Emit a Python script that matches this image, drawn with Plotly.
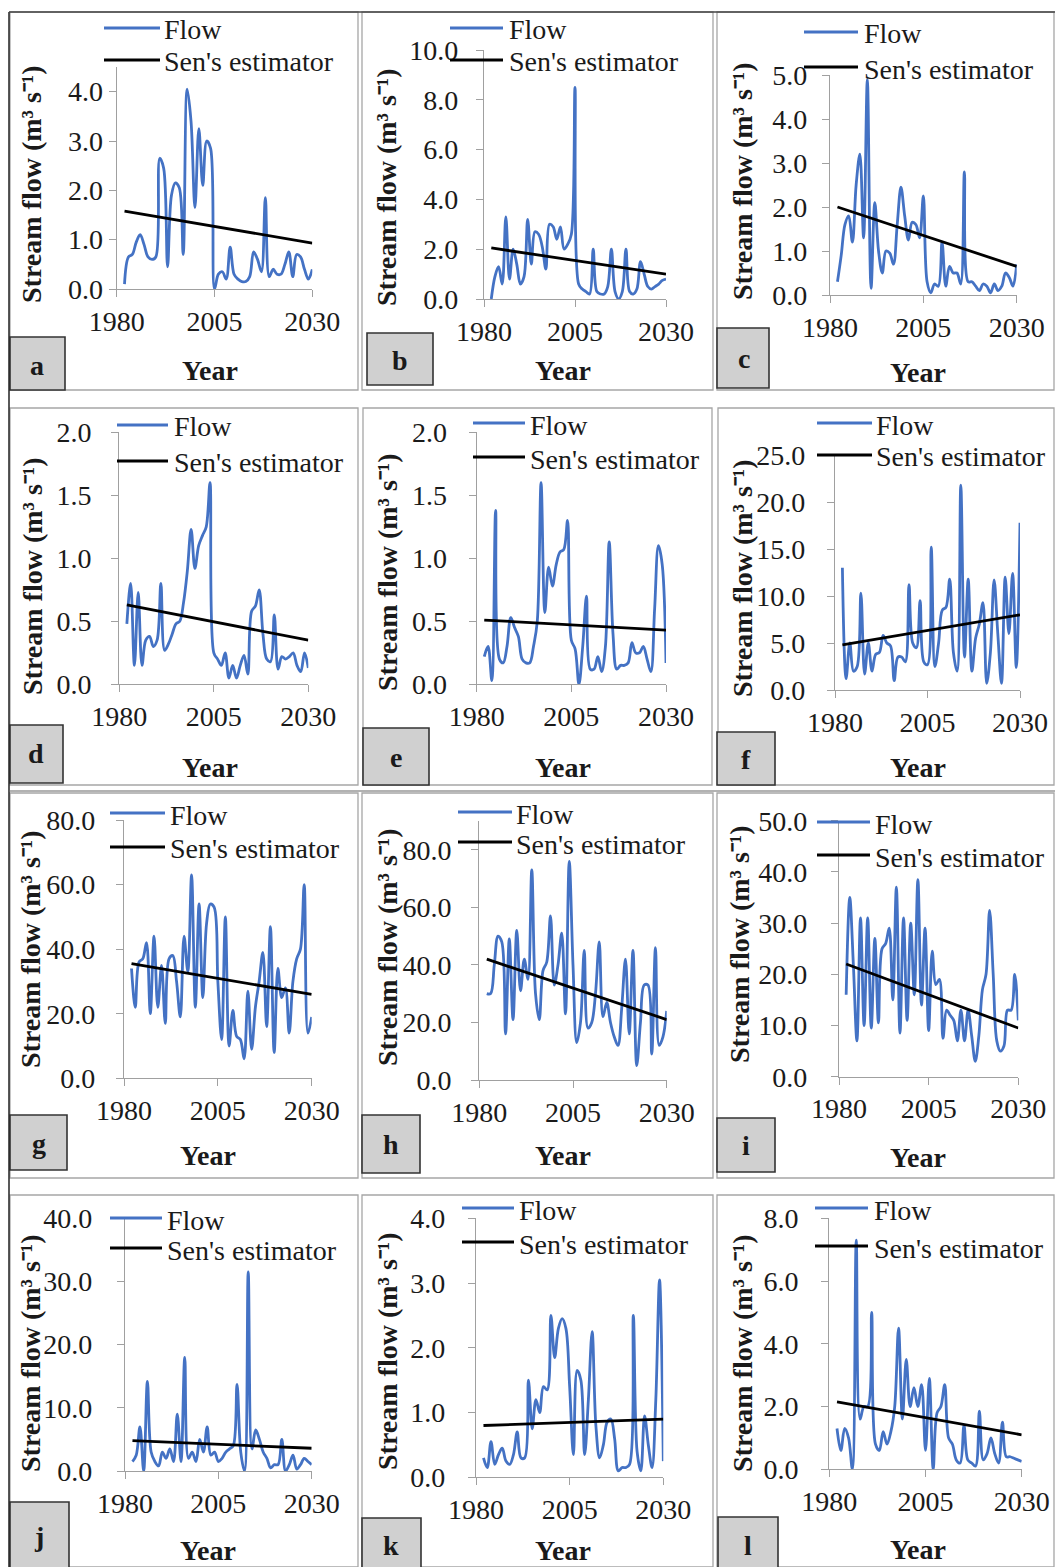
import plotly.graph_objects as go

W, H = 1055, 1567

# ---------------- data ----------------
YEARS = list(range(1982, 2031))
SEN_YEARS = [1982, 2030]
X_TICKS = [1980, 2005, 2030]
PANEL_LABELS = ["a", "b", "c", "d", "e", "f", "g", "h", "i", "j", "k", "l"]
Y_MAX = [4.5, 10, 5, 2, 2, 25, 80, 90, 50, 40, 4, 8]
Y_STEP = [1, 2, 1, 0.5, 0.5, 5, 20, 20, 10, 10, 1, 2]
Y_TITLE = "Stream flow (m\u00b3 s\u207b\u00b9)"
X_TITLE = "Year"

flow_a = [0.1, 0.65, 0.7, 0.95, 1.1, 0.9, 0.65, 0.6, 0.65, 2.65, 2.45, 0.45, 1.9, 2.15, 2.05, 0.7,
          4.05, 3.4, 1.65, 3.25, 2.1, 3.0, 2.85, 0.0, 0.3, 0.35, 0.2, 0.85, 0.3, 0.2, 0.15, 0.15,
          0.25, 0.75, 0.6, 0.35, 1.85, 0.25, 0.4, 0.3, 0.3, 0.5, 0.75, 0.25, 0.7, 0.65, 0.4, 0.2, 0.4]
flow_b = [0.0, 0.9, 1.3, 0.6, 3.3, 0.8, 2.0, 1.4, 0.6, 0.9, 3.2, 1.4, 2.7, 2.6, 2.1, 1.2, 3.0, 2.9,
          2.4, 2.9, 2.0, 2.2, 2.6, 8.5, 0.6, 0.4, 0.3, 0.2, 2.0, 0.3, 0.2, 0.2, 0.5, 2.0, 0.3, 0.0,
          0.3, 2.0, 0.3, 0.2, 0.4, 1.5, 1.0, 0.5, 0.4, 0.5, 0.6, 0.75, 0.8]
flow_c = [0.3, 0.9, 1.6, 1.8, 1.2, 2.5, 3.2, 1.3, 4.9, 0.15, 2.1, 1.0, 0.5, 1.0, 0.95, 0.7, 1.6,
          2.45, 1.8, 1.25, 1.65, 1.6, 1.3, 2.25, 0.3, 0.05, 0.25, 0.2, 1.2, 0.2, 0.65, 0.5, 0.5,
          0.25, 2.8, 0.3, 0.3, 0.2, 0.1, 0.25, 0.2, 0.05, 0.25, 0.1, 0.2, 0.5, 0.4, 0.2, 0.7]
flow_d = [0.48, 0.8, 0.15, 0.73, 0.15, 0.35, 0.38, 0.3, 0.35, 0.8, 0.27, 0.32, 0.4, 0.48, 0.5,
          0.65, 0.9, 1.23, 0.92, 1.1, 1.18, 1.25, 1.6, 0.25, 0.2, 0.15, 0.25, 0.05, 0.15, 0.05,
          0.15, 0.23, 0.08, 0.58, 0.62, 0.75, 0.4, 0.2, 0.18, 0.55, 0.12, 0.22, 0.2, 0.22, 0.25,
          0.15, 0.1, 0.25, 0.13]
flow_e = [0.22, 0.3, 0.03, 1.38, 0.2, 0.17, 0.3, 0.53, 0.45, 0.38, 0.2, 0.17, 0.17, 0.3, 0.5, 1.6,
          0.57, 0.93, 0.78, 0.95, 1.05, 1.07, 1.3, 0.35, 0.28, 0.0, 0.3, 0.7, 0.12, 0.12, 0.22, 0.1,
          0.3, 1.13, 0.4, 0.12, 0.15, 0.15, 0.17, 0.33, 0.25, 0.25, 0.3, 0.2, 0.1, 0.6, 1.1, 0.95, 0.17]
flow_f = [13.0, 1.2, 5.0, 2.0, 2.5, 10.3, 1.7, 5.0, 2.0, 3.8, 4.0, 5.8, 5.0, 4.7, 1.0, 3.5, 3.5,
          3.0, 11.2, 5.0, 4.5, 9.5, 3.0, 2.7, 15.2, 2.5, 5.0, 8.5, 8.8, 11.8, 4.0, 2.0, 21.8, 3.5,
          11.8, 2.0, 5.5, 7.0, 9.3, 0.7, 4.0, 11.7, 6.0, 0.7, 12.0, 6.0, 12.4, 2.4, 17.8]
flow_g = [34, 22, 36, 37, 42, 20, 44, 22, 35, 17, 37, 38, 30, 19, 44, 33, 63, 22, 54, 25, 48, 54,
          53, 30, 12, 50, 10, 21, 13, 12, 6, 27, 9, 22, 30, 39, 16, 47, 8, 34, 25, 28, 14, 30, 37,
          40, 60, 14, 19]
flow_h = [30, 30, 40, 50, 48, 16, 49, 21, 52, 31, 42, 35, 73, 30, 21, 38, 41, 57, 33, 40, 51, 23,
          76, 40, 13, 20, 45, 18, 20, 30, 48, 22, 27, 20, 15, 12, 25, 42, 16, 45, 5, 20, 33, 33, 9,
          46, 12, 15, 24]
flow_i = [16, 35, 22, 7, 31, 10, 31, 9.5, 27, 10.5, 25, 26, 29, 15, 37, 8.5, 31, 11, 30, 16, 38.5,
          14, 29, 9, 24.5, 18, 19, 7.5, 13, 12, 11, 7, 13, 7, 13, 8, 3, 8, 17, 20, 32.5, 20, 7, 5,
          6, 13, 13, 20, 11]
flow_j = [1.5, 2.5, 7.0, 0.0, 14.2, 3.0, 1.5, 0.8, 3.0, 2.0, 3.5, 1.5, 9.0, 1.5, 18.0, 2.0, 3.0,
          1.5, 5.0, 3.0, 7.0, 2.5, 3.0, 1.5, 2.0, 3.0, 3.5, 4.0, 13.7, 3.0, 0.0, 31.5, 3.5, 6.5, 5.0,
          3.0, 2.0, 0.5, 1.0, 1.0, 5.0, 0.0, 1.0, 2.5, 0.3, 1.0, 2.0, 1.5, 1.0]
flow_k = [0.3, 0.15, 0.55, 0.2, 0.35, 0.45, 0.25, 0.2, 0.35, 0.7, 0.3, 0.3, 1.5, 0.75, 1.2, 1.0,
          1.4, 1.35, 2.5, 1.85, 2.3, 2.45, 2.3, 1.4, 0.35, 1.65, 1.5, 0.35, 1.2, 2.25, 0.8, 0.3, 0.5,
          0.85, 0.9, 0.6, 0.1, 0.15, 0.15, 0.2, 2.5, 0.4, 0.1, 0.95, 0.5, 0.15, 1.2, 3.05, 0.25]
flow_l = [1.3, 0.6, 1.3, 1.0, 0.0, 7.3, 1.6, 2.0, 2.0, 5.0, 0.8, 0.6, 1.2, 0.8, 1.2, 2.0, 4.5, 1.6,
          3.5, 2.0, 2.6, 2.0, 2.7, 0.6, 2.9, 0.0, 1.8, 2.0, 2.7, 1.0, 0.8, 0.3, 0.2, 1.4, 0.3, 0.2,
          0.1, 1.85, 0.3, 0.5, 1.0, 0.5, 0.2, 1.5, 0.4, 0.4, 0.35, 0.3, 0.25]

sen_a = [1.58, 0.93]
sen_b = [2.05, 1.0]
sen_c = [2.0, 0.65]
sen_d = [0.63, 0.35]
sen_e = [0.51, 0.43]
sen_f = [4.8, 8.0]
sen_g = [35.5, 26.0]
sen_h = [42.0, 21.0]
sen_i = [22.0, 9.5]
sen_j = [4.8, 3.6]
sen_k = [0.8, 0.9]
sen_l = [2.15, 1.1]

FLOWS = [flow_a, flow_b, flow_c, flow_d, flow_e, flow_f, flow_g, flow_h, flow_i, flow_j, flow_k, flow_l]
SENS = [sen_a, sen_b, sen_c, sen_d, sen_e, sen_f, sen_g, sen_h, sen_i, sen_j, sen_k, sen_l]

# ---------------- layout geometry (pixels) ----------------
GEOM = [
    dict(box=(10, 358, 12, 390), plot=(116.7, 312.3, 289, 67), leg=(104, 160, 28, 60, 162),
         ytl=(32, 184), xtl=(210, 370), tag=(10, 65, 337, 390), tagc=(37, 365), ygap=7),
    dict(box=(362, 713, 12, 390), plot=(484, 666, 299, 50), leg=(450, 503, 28, 60, 507),
         ytl=(387, 187), xtl=(563, 370), tag=(367, 433, 333, 385), tagc=(400, 360), ygap=21),
    dict(box=(717, 1054, 12, 390), plot=(830, 1016.7, 295, 75), leg=(804, 858, 32, 67, 862),
         ytl=(742, 181), xtl=(918, 372), tag=(717, 769, 328, 388), tagc=(744, 359), ygap=18),
    dict(box=(10, 358, 408, 785), plot=(119.3, 308.3, 684.3, 432.3), leg=(117, 168, 425, 461, 172),
         ytl=(32, 576), xtl=(210, 767), tag=(10, 63, 725, 783), tagc=(36, 754), ygap=23),
    dict(box=(363, 712, 408, 785), plot=(476.7, 666, 684.3, 432.3), leg=(473, 525, 423, 457, 528),
         ytl=(387, 572), xtl=(563, 767), tag=(363, 429, 728, 785), tagc=(396, 757), ygap=25),
    dict(box=(718, 1054, 408, 785), plot=(835, 1020, 690, 455), leg=(817, 872, 423, 455, 874),
         ytl=(742, 578), xtl=(918, 767), tag=(717, 775, 732, 785), tagc=(746, 759), ygap=25),
    dict(box=(10, 358, 793, 1178), plot=(124, 311.7, 1078.3, 820), leg=(110, 165, 813, 847, 168),
         ytl=(30, 949), xtl=(208, 1155), tag=(10, 67, 1115, 1170), tagc=(39, 1143), ygap=24),
    dict(box=(362, 713, 793, 1178), plot=(479.3, 666.7, 1080, 821), leg=(458, 512, 812, 842, 514),
         ytl=(387, 947), xtl=(563, 1155), tag=(362, 420, 1115, 1173), tagc=(391, 1144), ygap=23),
    dict(box=(717, 1054, 793, 1178), plot=(839, 1018.3, 1076.7, 820.7), leg=(817, 870, 822, 855, 873),
         ytl=(740, 944), xtl=(918, 1157), tag=(717, 775, 1118, 1172), tagc=(746, 1145), ygap=27),
    dict(box=(10, 358, 1195, 1567), plot=(125, 311.7, 1471, 1218.3), leg=(110, 162, 1218, 1248, 165),
         ytl=(30, 1353), xtl=(208, 1550), tag=(10, 69, 1502, 1570), tagc=(39, 1536), ygap=28),
    dict(box=(362, 713, 1195, 1567), plot=(476, 663.3, 1477.3, 1218.3), leg=(462, 514, 1208, 1242, 517),
         ytl=(387, 1351), xtl=(563, 1550), tag=(362, 421, 1518, 1570), tagc=(391, 1545), ygap=26),
    dict(box=(717, 1054, 1195, 1567), plot=(829.3, 1021.7, 1469.3, 1218.3), leg=(815, 868, 1208, 1246, 872),
         ytl=(742, 1353), xtl=(918, 1549), tag=(718, 778, 1517, 1570), tagc=(748, 1545), ygap=26),
]

FONT = "Liberation Serif"
TXT = "#1a1a1a"
BLUE = "#4472C4"
AXIS = "#a0a0a0"
FS = 28


def px(x):
    return x / W


def py(y):
    return 1 - y / H


fig = go.Figure()
shapes = []
annotations = []
layout_axes = {}

for n in range(12):
    g = GEOM[n]
    sfx = "" if n == 0 else str(n + 1)
    xref, yref = "x" + sfx, "y" + sfx
    x0, x1, yb, yt = g["plot"]
    fig.add_trace(go.Scatter(x=YEARS, y=FLOWS[n], mode="lines", name="Flow",
                             line=dict(color=BLUE, width=2.8, shape="spline", smoothing=1.0),
                             xaxis=xref, yaxis=yref, showlegend=False))
    fig.add_trace(go.Scatter(x=SEN_YEARS, y=SENS[n], mode="lines", name="Sen's estimator",
                             line=dict(color="black", width=2.8),
                             xaxis=xref, yaxis=yref, showlegend=False))
    layout_axes["xaxis" + sfx] = dict(
        domain=[px(x0), px(x1)], anchor=yref, range=[1980, 2030], automargin=False,
        tickmode="array", tickvals=X_TICKS, ticktext=[str(v) for v in X_TICKS],
        ticks="outside", ticklen=7, tickwidth=1.3, tickcolor=AXIS,
        showline=True, linecolor=AXIS, linewidth=1.3, showgrid=False, zeroline=False,
        tickfont=dict(family=FONT, size=FS, color=TXT), ticklabelstandoff=0,
    )
    layout_axes["yaxis" + sfx] = dict(
        domain=[py(yb), py(yt)], anchor=xref, range=[0, Y_MAX[n]], automargin=False,
        tickmode="linear", tick0=0, dtick=Y_STEP[n], tickformat=".1f",
        ticks="outside", ticklen=7, tickwidth=1.3, tickcolor=AXIS,
        showline=True, linecolor=AXIS, linewidth=1.3, showgrid=False, zeroline=False,
        tickfont=dict(family=FONT, size=FS, color=TXT), ticklabelstandoff=max(g["ygap"] - 9, 0),
    )

    bx0, bx1, by0, by1 = g["box"]
    shapes.append(dict(type="rect", xref="paper", yref="paper", x0=px(bx0), x1=px(bx1),
                       y0=py(by1), y1=py(by0), line=dict(color="#a6a6a6", width=1.3), layer="below"))
    lx0, lx1, lyf, lys, tx = g["leg"]
    shapes.append(dict(type="line", xref="paper", yref="paper", x0=px(lx0), x1=px(lx1),
                       y0=py(lyf), y1=py(lyf), line=dict(color=BLUE, width=2.8)))
    shapes.append(dict(type="line", xref="paper", yref="paper", x0=px(lx0), x1=px(lx1),
                       y0=py(lys), y1=py(lys), line=dict(color="black", width=2.8)))
    annotations.append(dict(text="Flow", x=px(tx), y=py(lyf + 2), xref="paper", yref="paper",
                            xanchor="left", yanchor="middle", showarrow=False,
                            font=dict(family=FONT, size=FS, color=TXT)))
    annotations.append(dict(text="Sen's estimator", x=px(tx), y=py(lys + 2), xref="paper", yref="paper",
                            xanchor="left", yanchor="middle", showarrow=False,
                            font=dict(family=FONT, size=FS, color=TXT)))
    annotations.append(dict(text=Y_TITLE,
                            x=px(g["ytl"][0]), y=py(g["ytl"][1]), xref="paper", yref="paper",
                            xanchor="center", yanchor="middle", textangle=-90, showarrow=False,
                            font=dict(family=FONT, size=FS, color=TXT, weight="bold")))
    annotations.append(dict(text=X_TITLE, x=px(g["xtl"][0]), y=py(g["xtl"][1]),
                            xref="paper", yref="paper", xanchor="center", yanchor="middle",
                            showarrow=False, font=dict(family=FONT, size=FS, color=TXT, weight="bold")))
    tx0, tx1, ty0, ty1 = g["tag"]
    shapes.append(dict(type="rect", xref="paper", yref="paper", x0=px(tx0), x1=px(tx1),
                       y0=py(ty1), y1=py(ty0), fillcolor="#d0d0d0",
                       line=dict(color="#333333", width=1.6)))
    annotations.append(dict(text=PANEL_LABELS[n], x=px(g["tagc"][0]),
                            y=py(g["tagc"][1]), xref="paper", yref="paper", xanchor="center",
                            yanchor="middle", showarrow=False,
                            font=dict(family=FONT, size=FS, color=TXT, weight="bold")))

shapes.append(dict(type="line", xref="paper", yref="paper", x0=px(9), x1=px(9), y0=py(1567), y1=py(12),
                   line=dict(color="#222222", width=1.5)))
shapes.append(dict(type="line", xref="paper", yref="paper", x0=px(9), x1=px(1055), y0=py(12), y1=py(12),
                   line=dict(color="#444444", width=1.5)))
shapes.append(dict(type="line", xref="paper", yref="paper", x0=px(9), x1=px(1055), y0=py(791), y1=py(791),
                   line=dict(color="#666666", width=1.2)))

fig.update_layout(
    width=W, height=H, autosize=False,
    margin=dict(l=0, r=0, t=0, b=0, pad=0, autoexpand=False),
    paper_bgcolor="white", plot_bgcolor="rgba(0,0,0,0)",
    showlegend=False, shapes=shapes, annotations=annotations,
    font=dict(family=FONT, size=FS, color=TXT),
    **layout_axes,
)

fig.write_html("out.html", config={"displayModeBar": False},
               post_script="document.body.style.margin='0px';document.body.style.overflow='hidden';")
